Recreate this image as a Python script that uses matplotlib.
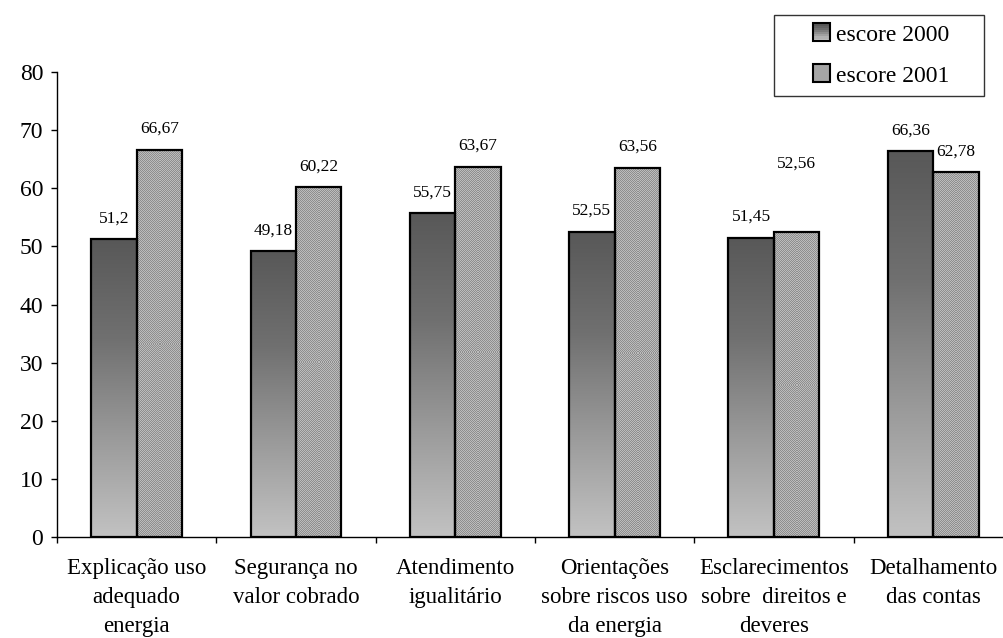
import numpy as np
import matplotlib
matplotlib.use("Agg")
import matplotlib.pyplot as plt
from matplotlib.patches import Rectangle
from matplotlib.legend_handler import HandlerBase
from matplotlib.colors import LinearSegmentedColormap, ListedColormap

# dados
categorias = ["Explicação uso\nadequado\nenergia",
              "Segurança no\nvalor cobrado",
              "Atendimento\nigualitário",
              "Orientações\nsobre riscos uso\nda energia",
              "Esclarecimentos\nsobre  direitos e\ndeveres",
              "Detalhamento\ndas contas"]
escore_2000 = [51.2, 49.18, 55.75, 52.55, 51.45, 66.36]
escore_2001 = [66.67, 60.22, 63.67, 63.56, 52.56, 62.78]
series = ["escore 2000", "escore 2001"]
yticks = [0, 10, 20, 30, 40, 50, 60, 70, 80]

plt.rcParams['font.family'] = ['Liberation Serif', 'DejaVu Serif']

cinza = LinearSegmentedColormap.from_list("cinza", ["#c2c2c2", "#9a9a9a", "#707070", "#585858"])
grad = np.linspace(1, 0, 256).reshape(-1, 1)
# padrao pontilhado (xadrez fino) das barras de 2001
xadrez = ListedColormap(["#8e8e8e", "#bcbcbc"])


def tabuleiro(ny, nx):
    yy, xx = np.mgrid[0:ny, 0:nx]
    return (yy + xx) % 2


class HandlerGradiente(HandlerBase):
    # quadradinho da legenda com degrade
    def create_artists(self, legend, orig_handle, xdescent, ydescent,
                       width, height, fontsize, trans):
        lado = height * 1.05
        x0 = -xdescent + width - lado
        y0 = -ydescent
        arts = []
        n = 8
        for i in range(n):
            c = cinza(i / (n - 1))
            arts.append(Rectangle((x0, y0 + i * lado / n), lado, lado / n,
                                  facecolor=c, edgecolor='none', transform=trans))
        arts.append(Rectangle((x0, y0), lado, lado, facecolor='none',
                              edgecolor='black', lw=1.5, transform=trans))
        return arts


class HandlerPadrao(HandlerBase):
    def create_artists(self, legend, orig_handle, xdescent, ydescent,
                       width, height, fontsize, trans):
        lado = height * 1.05
        x0 = -xdescent + width - lado
        r = Rectangle((x0, -ydescent), lado, lado, facecolor='#a5a5a5',
                      edgecolor='black', lw=1.5, transform=trans)
        return [r]


fig = plt.figure(figsize=(10.04, 6.38), dpi=100)
ax = fig.add_axes([0.0568, 0.1583, 0.952, 0.7288])

x = np.arange(len(categorias))
w = 0.285

ax.set_xlim(-0.5, len(categorias) - 0.5)
ax.set_ylim(0, 80)

b1 = ax.bar(x - w / 2, escore_2000, w, facecolor='none', edgecolor='black', lw=1.6, zorder=3)
b2 = ax.bar(x + w / 2, escore_2001, w, facecolor='none', edgecolor='black', lw=1.6, zorder=3)

# degrade dentro das barras de 2000
for bar in b1:
    x0 = bar.get_x()
    h = bar.get_height()
    im = ax.imshow(grad, cmap=cinza, vmin=0, vmax=1, aspect='auto',
                   extent=(x0, x0 + bar.get_width(), 0, h), zorder=2,
                   interpolation='bilinear')
    im.set_clip_path(bar)

# xadrez dentro das barras de 2001, um quadrado por pixel
for bar in b2:
    x0 = bar.get_x()
    h = bar.get_height()
    p0 = ax.transData.transform((x0, 0))
    p1 = ax.transData.transform((x0 + bar.get_width(), h))
    nx = int(round(abs(p1[0] - p0[0])))
    ny = int(round(abs(p1[1] - p0[1])))
    im = ax.imshow(tabuleiro(ny, nx), cmap=xadrez, vmin=0, vmax=1, aspect='auto',
                   extent=(x0, x0 + bar.get_width(), 0, h), zorder=2,
                   interpolation='nearest')
    im.set_clip_path(bar)

ax.set_xlim(-0.5, len(categorias) - 0.5)
ax.set_ylim(0, 80)

# rotulos dos valores
desloc = {("2001", 4): 34}
for i, v in enumerate(escore_2000):
    ax.annotate(f"{v:g}".replace('.', ','), (x[i] - w / 2, v),
                xytext=(0, 15 + desloc.get(("2000", i), 0)),
                textcoords='offset points', ha='center', va='center', fontsize=12.5)
for i, v in enumerate(escore_2001):
    ax.annotate(f"{v:g}".replace('.', ','), (x[i] + w / 2, v),
                xytext=(0, 15 + desloc.get(("2001", i), 0)),
                textcoords='offset points', ha='center', va='center', fontsize=12.5)

ax.spines['top'].set_visible(False)
ax.spines['right'].set_visible(False)
ax.spines['left'].set_linewidth(1.0)
ax.spines['bottom'].set_linewidth(1.0)

ax.set_yticks(yticks)
ax.tick_params(axis='y', direction='out', length=4, width=1, pad=6, labelsize=17)
ax.set_xticks(x)
ax.set_xticklabels(categorias, fontsize=16.5, linespacing=1.5)
ax.tick_params(axis='x', which='major', length=0, pad=15)
ax.set_xticks(np.arange(-0.5, len(categorias), 1), minor=True)
ax.tick_params(axis='x', which='minor', direction='out', length=4, width=1)

# caixa da legenda
fig.patches.append(Rectangle((774 / 1004, 1 - 96 / 638), 210 / 1004, 81 / 638,
                             transform=fig.transFigure, facecolor='white',
                             edgecolor='#333333', lw=1.0, zorder=1))
h1 = Rectangle((0, 0), 1, 1)
h2 = Rectangle((0, 0), 1, 1)
leg = fig.legend([h1, h2], series, loc='upper left', bbox_to_anchor=(0.802, 0.962),
                 handler_map={h1: HandlerGradiente(), h2: HandlerPadrao()},
                 fontsize=17, frameon=False, borderpad=0,
                 labelspacing=0.82, handlelength=1.05, handletextpad=0.25, borderaxespad=0)
leg.set_zorder(2)

fig.savefig("out.png", dpi=100)
